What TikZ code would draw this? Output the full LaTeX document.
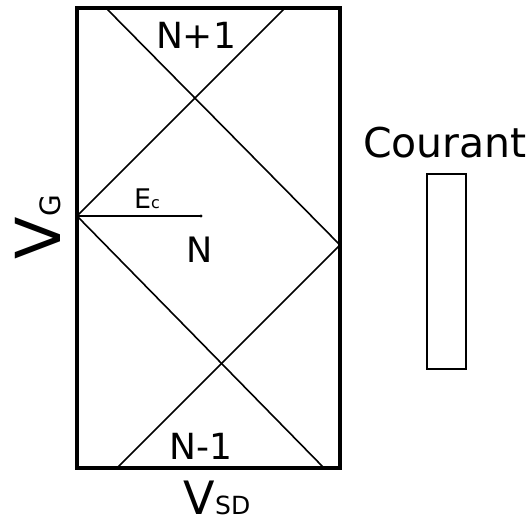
\documentclass[tikz,border=0pt]{standalone}
\usepackage{fontspec}
\setmainfont{DejaVu Sans}
\usepackage{tikz}
\usetikzlibrary{positioning,arrows.meta}

\begin{document}
\begin{tikzpicture}[x=1pt, y=-1pt, every node/.style={inner sep=0pt}]
    \useasboundingbox (0,0) rectangle (532,529);
    % Corners and vertices
    \coordinate (TL) at (77,8);
    \coordinate (BR) at (340,468);
    \coordinate (L) at (77,216);
    \coordinate (R) at (340,245);
    \coordinate (A) at (106,8);
    \coordinate (B) at (285,8);
    \coordinate (C) at (324,468);
    \coordinate (D) at (117,468);
    \coordinate (E) at (201,216);

    % Box and diamond
    \draw[line width=1.6pt] (A) -- (R);
    \draw[line width=1.6pt] (B) -- (L);
    \draw[line width=1.6pt] (L) -- (C);
    \draw[line width=1.6pt] (R) -- (D);
    \draw[line width=3.2pt] (TL) rectangle (BR);

    % Charging energy
    \draw[line width=1.6pt] (L) -- (E);
    \fill (E) circle (1.6pt);

    % Labels
    \node (Np) at (196,35) {\fontsize{36}{36}\selectfont N+1};
    \node (N) at (200,250) {\fontsize{35}{35}\selectfont N};
    \node (Nm) at (201,446) {\fontsize{36}{36}\selectfont N-1};
    \node[anchor=base] (Ec) at (147,208) {\fontsize{27}{27}\selectfont E\fontsize{16}{16}\selectfont c};
    \node[anchor=base] (Vsd) at (217,514) {\fontsize{46}{46}\selectfont V\fontsize{25}{25}\selectfont SD};
    \node[rotate=90, anchor=base] (Vg) at (60,227) {\fontsize{62}{62}\selectfont V\fontsize{28}{28}\selectfont G};

    % Current bar
    \node (Cour) at (445,143) {\fontsize{41}{41}\selectfont Courant};
    \draw[line width=1.8pt] (427,174) rectangle (466,369);
\end{tikzpicture}
\end{document}
